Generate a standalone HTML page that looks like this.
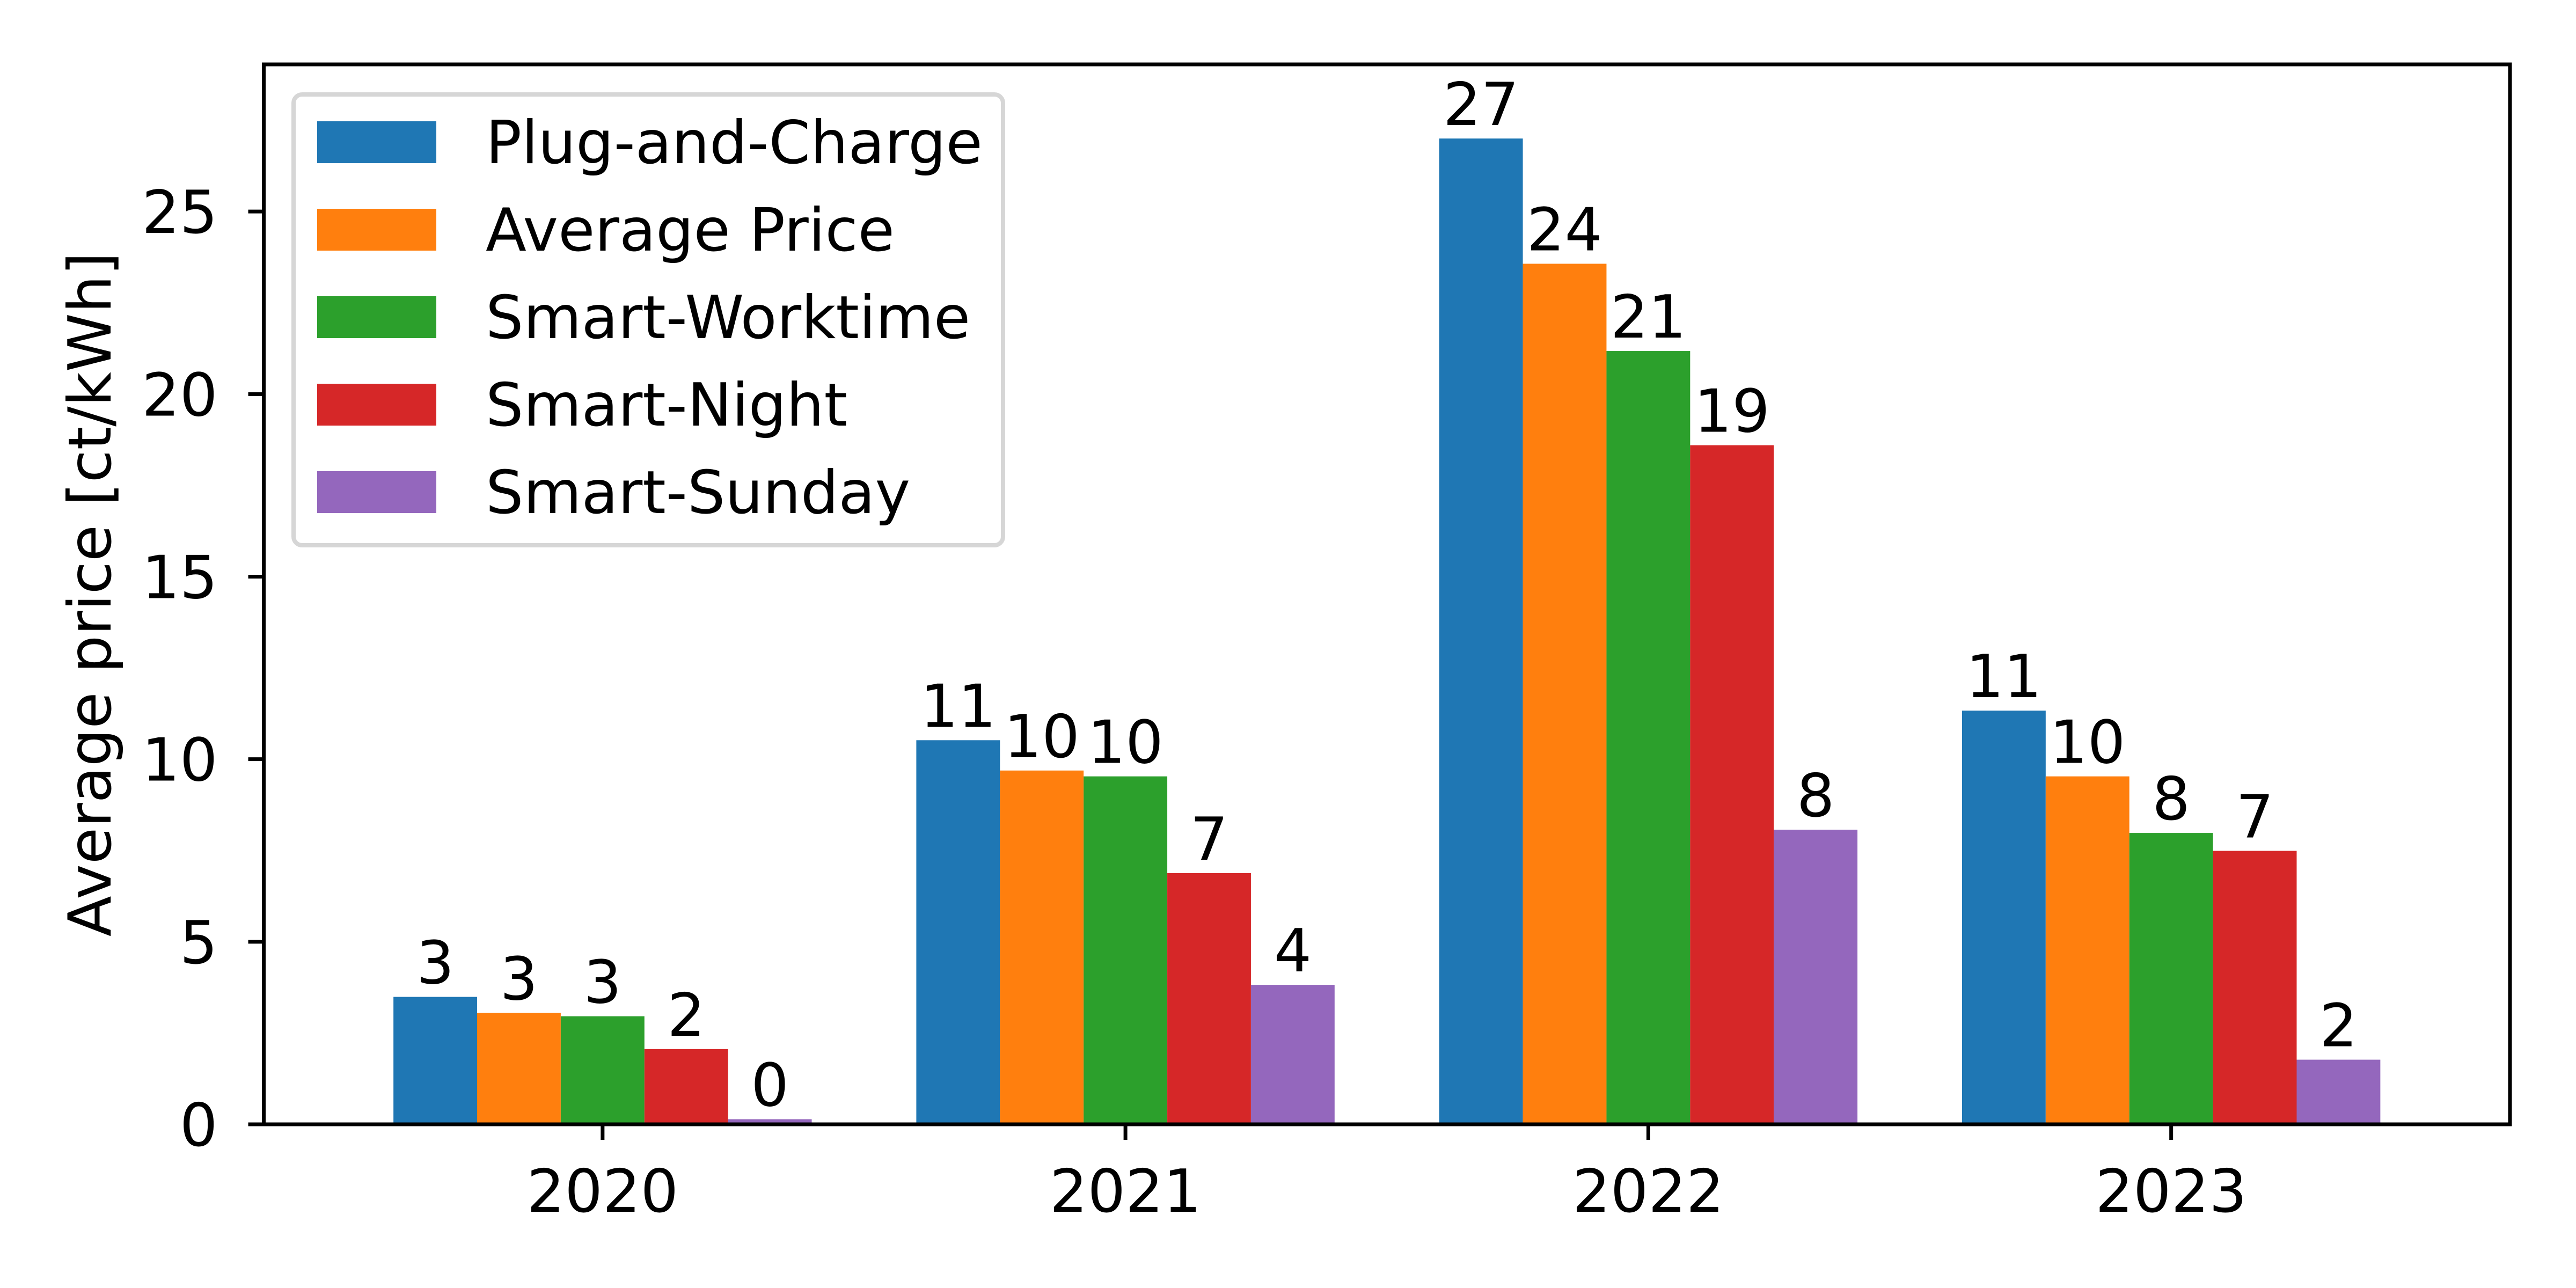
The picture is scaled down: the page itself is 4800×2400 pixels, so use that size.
<!DOCTYPE html>
<html><head><meta charset="utf-8"><style>
html,body{margin:0;padding:0;background:#fff}
svg{display:block}
text{font-family:"DejaVu Sans","Liberation Sans",sans-serif;fill:#000}
</style></head><body>
<svg id="chart" xmlns="http://www.w3.org/2000/svg" width="4800" height="2400" viewBox="0 0 4800 2400">
<rect width="4800" height="2400" fill="#fff"/>
<g id="plot"></g>
</svg>
<script>
const categories = ["2020", "2021", "2022", "2023"];
const seriesNames = ["Plug-and-Charge", "Average Price", "Smart-Worktime", "Smart-Night", "Smart-Sunday"];
const plugAndCharge = [3.49, 10.52, 27.0, 11.33];
const averagePrice = [3.05, 9.69, 23.57, 9.53];
const smartWorktime = [2.96, 9.53, 21.18, 7.98];
const smartNight = [2.06, 6.88, 18.6, 7.49];
const smartSunday = [0.14, 3.82, 8.07, 1.77];
const yTicks = [0, 5, 10, 15, 20, 25];
const colors = ["#1f77b4", "#ff7f0e", "#2ca02c", "#d62728", "#9467bd"];

const series = [plugAndCharge, averagePrice, smartWorktime, smartNight, smartSunday];
const NS = "http://www.w3.org/2000/svg";
const L = 491.5, R = 4677, T = 120, B = 2095;
const xMin = -0.648, xMax = 3.648, yMin = 0, yMax = 29.03;
const FS = 111;
function xs(v){ return L + (v - xMin) / (xMax - xMin) * (R - L); }
function ys(v){ return B - (v - yMin) / (yMax - yMin) * (B - T); }
const g = document.getElementById('plot');
function el(tag, attrs, parent){
  const e = document.createElementNS(NS, tag);
  for (const k in attrs) e.setAttribute(k, attrs[k]);
  (parent || g).appendChild(e);
  return e;
}
const barW = 0.16;
series.forEach((vals, si) => {
  vals.forEach((v, ci) => {
    const x0 = ci - 0.4 + si * barW;
    const r = el('rect', {x: xs(x0), y: ys(v), width: xs(x0 + barW) - xs(x0), height: ys(0) - ys(v), fill: colors[si]});
    
    
    const t = el('text', {x: xs(x0 + barW/2), y: ys(v) - 25, 'font-size': FS, 'text-anchor': 'middle'});
    t.textContent = String(Math.round(v));
    
    
  });
});
const frame = el('rect', {x: L, y: T, width: R - L, height: B - T, fill: 'none', stroke: '#000', 'stroke-width': 7});


yTicks.forEach(v => {
  const ln = el('line', {x1: L - 29, x2: L, y1: ys(v), y2: ys(v), stroke: '#000', 'stroke-width': 7});
  
  
  const t = el('text', {x: L - 86, y: ys(v) + 40, 'font-size': FS, 'text-anchor': 'end'});
  t.textContent = String(v);
  
  
});
categories.forEach((c, i) => {
  const ln = el('line', {x1: xs(i), x2: xs(i), y1: B, y2: B + 29, stroke: '#000', 'stroke-width': 7});
  
  
  const t = el('text', {x: xs(i), y: 2258, 'font-size': FS, 'text-anchor': 'middle'});
  t.textContent = c;
  
  
});
const yt = el('text', {x: 0, y: 0, 'font-size': FS, 'text-anchor': 'middle', transform: 'translate(206,' + ((T + B)/2) + ') rotate(-90)'});
yt.textContent = 'Average price [ct/kWh]';


const lg = el('g', {});


const box = el('rect', {x: 547, y: 176, width: 1322, height: 840, rx: 16, fill: '#fff', stroke: '#d6d6d6', 'stroke-width': 8}, lg);


seriesNames.forEach((n, i) => {
  const y0 = 226 + i * 163;
  const p = el('rect', {x: 591, y: y0, width: 222, height: 78, fill: colors[i]}, lg);
  
  
  const t = el('text', {x: 905, y: y0 + 78, 'font-size': FS}, lg);
  t.textContent = n;
  
  
});
</script>
</body></html>
